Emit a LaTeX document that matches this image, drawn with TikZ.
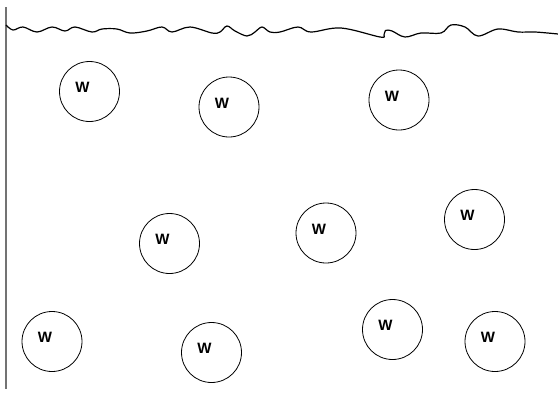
\documentclass[tikz,border=0pt]{standalone}
\usepackage{fontspec}
\setmainfont{Liberation Sans}
\begin{document}
\begin{tikzpicture}[x=1pt,y=-1pt,
  wcircle/.style={circle, draw=black, line width=0.8pt, minimum size=60pt, inner sep=0pt},
  wlabel/.style={font=\fontsize{15}{17}\selectfont\bfseries, inner sep=0pt}]
\useasboundingbox (0,0) rectangle (558,394);
% left wall
\draw[black!55, line width=1.4pt] (6,7) -- (6,389);
% wavy surface
\draw[black, line width=1.2pt] plot[smooth, tension=0.6] coordinates {
 (6,25) (13,30) (23,27) (37,32) (52,27) (65,31) (75,27) (92,32) (102,29) (117,29)
 (130,33) (147,31) (162,27) (172,32) (190,27) (212,33) (220,32) (227,26) (235,31)
 (247,36) (255,32) (262,27) (270,32) (280,32) (298,27) (311,32) (341,28) (380,37)
 (384,35) (385.5,30.5) (392,31) (405,37) (421,33) (441,33) (451,25) (465,27) (478,36)
 (498,29) (518,32) (535,32) (558,34)};
% circles
\foreach \n/\x/\y in {1/89.5/91.5, 2/229/107, 3/399/100, 4/169.5/243.5, 5/326/233,
  6/474.5/219.5, 7/52/341.5, 8/211.5/352.5, 9/392.5/329.5, 10/495/341.5} {
  \node[wcircle] (c\n) at (\x,\y) {};
  \node[wlabel] (t\n) at ([xshift=-7pt,yshift=4pt]c\n.center) {W};
}
\end{tikzpicture}
\end{document}
